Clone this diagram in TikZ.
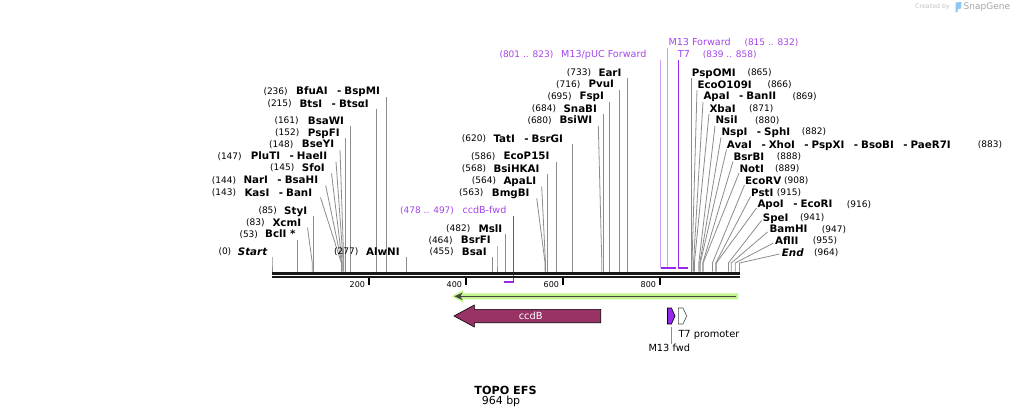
\documentclass[tikz,border=0pt]{standalone}
\usepackage{fontspec}
\setmainfont{DejaVu Sans}[ItalicFont={DejaVu Sans Oblique},BoldFont={DejaVu Sans Bold},BoldItalicFont={DejaVu Sans Bold Oblique}]
\definecolor{cutgray}{RGB}{140,140,140}
\definecolor{purp}{RGB}{165,70,235}
\definecolor{primer}{RGB}{150,40,235}
\definecolor{lav}{RGB}{205,160,245}
\definecolor{ccdb}{RGB}{153,51,102}
\definecolor{orfg}{RGB}{195,245,140}
\definecolor{orfd}{RGB}{70,70,70}
\definecolor{wm}{RGB}{195,195,195}
\definecolor{wmblue}{RGB}{140,200,245}
\newcommand\dsh{\hspace{9.5pt}-\hspace{3pt}}
% #1 id, #2 num x, #3 name x, #4 y, #5 number, #6 name, #7 start x, #8 start y, #9 site x
\newcommand\RSite[9]{%
  \node[nu] (#1n) at (#2,#4) {#5};
  \node[nm] (#1) at (#3,#4) {#6};
  \coordinate (#1s) at (#7,#8);
  \coordinate (#1b) at (#9,263);
  \coordinate (#1e) at (#9,271.5);
  \draw[cut] (#1s) -- (#1b) -- (#1e);}
\tikzset{
  nm/.style={font=\fontsize{10.3}{12}\selectfont\bfseries, anchor=west, inner sep=0pt, text height=7.5pt, text depth=0pt},
  nu/.style={font=\fontsize{9}{11}\selectfont, anchor=west, inner sep=0pt, text height=6.5pt, text depth=0pt},
  pl/.style={font=\fontsize{9.6}{11}\selectfont, text=purp, anchor=west, inner sep=0pt, text height=7pt, text depth=0pt},
  pn/.style={nu, text=purp},
  cut/.style={draw=cutgray, line width=0.8pt},
  rl/.style={font=\fontsize{8}{9}\selectfont, anchor=east, inner sep=0pt},
  feat/.style={draw=black, line width=0.6pt},
  flbl/.style={font=\fontsize{9.8}{11}\selectfont, inner sep=0pt},
}
\begin{document}
\begin{tikzpicture}[x=1pt,y=-1pt]
\useasboundingbox (0,0) rectangle (1013,418);
\fill[white] (0,0) rectangle (1013,418);

% ---------- left labels ----------
\RSite{a236}{263.3}{296}{91}{(236)}{BfuAI\dsh BspMI}{386.5}{97}{386.5}
\RSite{a215}{267.3}{299.3}{103.3}{(215)}{BtsI\dsh BtsαI}{376.3}{109}{376.3}
\RSite{a161}{274.3}{307.7}{120.7}{(161)}{BsaWI}{350.1}{126}{350.1}
\RSite{a152}{275}{307.7}{132.3}{(152)}{PspFI}{345.7}{138}{345.7}
\RSite{a148}{269}{301.7}{144}{(148)}{BseYI}{340}{150}{343.8}
\RSite{a147}{217.3}{250.7}{156}{(147)}{PluTI\dsh HaeII}{336}{161.7}{343.3}
\RSite{a145}{270}{301.7}{167.7}{(145)}{SfoI}{331.5}{173.3}{342.3}
\RSite{a144}{211.7}{243.3}{180}{(144)}{NarI\dsh BsaHI}{325.7}{185.5}{341.8}
\RSite{a143}{211.7}{244.3}{192.7}{(143)}{KasI\dsh BanI}{320.5}{197.5}{341.4}
\RSite{a85}{258.3}{284}{210.7}{(85)}{StyI}{313.2}{216}{313.2}
\RSite{a83}{246}{272.3}{222.3}{(83)}{XcmI}{307.5}{227.7}{312.3}
\RSite{a53}{239.3}{265}{234}{(53)}{BclI *}{297.7}{240}{297.7}
\RSite{a0}{218.3}{237.7}{251.7}{(0)}{\itshape Start}{272}{257}{272}
\RSite{a277}{334}{366}{251.7}{(277)}{AlwNI}{406.3}{257}{406.3}

% ---------- middle labels ----------
\RSite{a455}{429.3}{461.7}{251.7}{(455)}{BsaI}{492.7}{257}{492.7}
\RSite{a464}{428.3}{460.7}{240}{(464)}{BsrFI}{497}{246}{497}
\RSite{a482}{446}{478.3}{228.3}{(482)}{MslI}{505.8}{234}{505.8}
\RSite{a563}{459}{491.7}{192.3}{(563)}{BmgBI}{536.7}{198.3}{545.1}
\RSite{a564}{471.7}{503.3}{180.3}{(564)}{ApaLI}{541.7}{186.7}{545.5}
\RSite{a568}{461.7}{493.3}{168.3}{(568)}{BsiHKAI}{547.5}{174}{547.5}
\RSite{a586}{471}{503.3}{156}{(586)}{EcoP15I}{556.2}{162}{556.2}
\RSite{a620}{461.7}{493.3}{138.3}{(620)}{TatI\dsh BsrGI}{572.7}{144}{572.7}
\RSite{a680}{527.3}{559.3}{120}{(680)}{BsiWI}{598.3}{125.5}{601.8}
\RSite{a684}{531.7}{563.3}{108.3}{(684)}{SnaBI}{603.7}{114}{603.7}
\RSite{a695}{547.3}{579.3}{96}{(695)}{FspI}{609.1}{102}{609.1}
\RSite{a716}{556}{588.3}{84}{(716)}{PvuI}{619.3}{90}{619.3}
\RSite{a733}{566.7}{598.3}{72.3}{(733)}{EarI}{627.5}{78}{627.5}

% ---------- right labels ----------
\RSite{a865}{747.3}{691.7}{72.3}{(865)}{PspOMI}{691.5}{78.3}{691.5}
\RSite{a866}{767.3}{697.3}{84.3}{(866)}{EcoO109I}{697}{90}{692}
\RSite{a869}{792.3}{703.3}{96}{(869)}{ApaI\dsh BanII}{703}{102}{693.5}
\RSite{a871}{749}{709.3}{108.3}{(871)}{XbaI}{709}{114}{694.4}
\RSite{a880}{755}{715.3}{120}{(880)}{NsiI}{715}{126}{698.8}
\RSite{a882}{801.7}{721.3}{131.7}{(882)}{NspI\dsh SphI}{721}{137.5}{699.8}
\RSite{a883}{977.7}{726.7}{144.5}{(883)}{AvaI\dsh XhoI\dsh PspXI\dsh BsoBI\dsh PaeR7I}{726.5}{149.5}{700.3}
\RSite{a888}{776.7}{733.3}{156.7}{(888)}{BsrBI}{733}{161.5}{702.7}
\RSite{a889}{775}{739.3}{168.3}{(889)}{NotI}{739}{173}{703.2}
\RSite{a908}{784}{745}{180.7}{(908)}{EcoRV}{744.5}{185}{712.4}
\RSite{a915}{776.7}{751}{192.3}{(915)}{PstI}{750.5}{196.5}{715.8}
\RSite{a916}{846.7}{757.3}{204}{(916)}{ApoI\dsh EcoRI}{756.5}{208}{716.3}
\RSite{a941}{800}{762.7}{217.3}{(941)}{SpeI}{761.5}{220.5}{728.4}
\RSite{a947}{821.7}{769.3}{229}{(947)}{BamHI}{767.5}{232}{731.3}
\RSite{a955}{812.7}{775}{240.7}{(955)}{AflII}{773.5}{243}{735.2}
\RSite{a964}{814}{781.7}{252.7}{(964)}{\itshape End}{779.5}{254}{739.5}

% ---------- primers ----------
\node[pn] (p1n) at (400,210) {(478 .. 497)};
\node[pl] (p1) at (462.3,210) {ccdB-fwd};
\coordinate (p1s) at (513,216);
\coordinate (p1e) at (513,282);
\coordinate (p1a) at (503.8,282);
\draw[primer, line width=1pt] (p1s) -- (p1e);
\draw[primer, line width=2pt] (p1a) -- ([xshift=0.5pt]p1e);

\node[pn] (p2n) at (499.3,54.3) {(801 .. 823)};
\node[pl] (p2) at (561,54.3) {M13/pUC Forward};
\coordinate (p2s) at (660.5,60);
\coordinate (p2e) at (660.5,268);
\draw[lav, line width=1pt] (p2s) -- (p2e);

\node[pl] (p3) at (668.3,42.3) {M13 Forward};
\node[pn] (p3n) at (744.3,42.3) {(815 .. 832)};
\coordinate (p3s) at (667.3,48);
\coordinate (p3e) at (667.3,268);
\draw[lav, line width=1pt] (p3s) -- (p3e);

\node[pl] (p4) at (677.7,54.3) {T7};
\node[pn] (p4n) at (702.7,54.3) {(839 .. 858)};
\coordinate (p4s) at (678.9,60);
\coordinate (p4e) at (678.9,268);
\draw[primer, line width=1pt] (p4s) -- (p4e);

\coordinate (m1a) at (660.5,268);
\coordinate (m1b) at (675.5,268);
\coordinate (m2a) at (678.4,268);
\coordinate (m2b) at (688.1,268);
\draw[primer, line width=2pt] (m1a) -- (m1b);
\draw[primer, line width=2pt] (m2a) -- (m2b);

% ---------- sequence bar ----------
\coordinate (bar0) at (272,273);
\coordinate (bar1) at (740,273);
\draw[black!90, line width=3pt] (bar0) -- (bar1);
\draw[black!90, line width=2.5pt] ([yshift=-4.2pt]bar0) -- ([yshift=-4.2pt]bar1);

% ruler
\foreach \t/\x in {200/369,400/466,600/563,800/660}{
  \draw[black, line width=2pt] (\x,278) -- (\x,285);
  \node[rl] (r\t) at (\x-3.8,284.3) {\t};
}

% ---------- green feature ----------
\fill[orfg] (738,293.3) -- (463,293.3) -- (463,290.3) -- (451.5,296.3) -- (463,302.3) -- (463,299.3) -- (738,299.3) -- cycle;
\draw[orfd, line width=1.6pt] (736,296.3) -- (459,296.3);
\fill[orfd] (454.5,296.3) -- (462.5,292.6) -- (460.5,296.3) -- (462.5,300) -- cycle;

% ---------- ccdB ----------
\draw[feat, fill=ccdb] (600.7,309.3) -- (474.3,309.3) -- (474.3,305) -- (454,316) -- (474.3,327) -- (474.3,322.7) -- (600.7,322.7) -- cycle;
\node[flbl, text=white] (ccdbl) at (530.7,315.5) {ccdB};

% ---------- M13 fwd / T7 promoter ----------
\draw[feat, fill=primer] (667.5,308) -- (671.5,308) -- (675,316) -- (671.5,324) -- (667.5,324) -- cycle;
\coordinate (m13f) at (671,326.5);
\node[flbl] (m13l) at (669.3,348.3) {M13 fwd};
\draw[cut] (m13f) -- (m13l.north -| m13f);
\draw[draw=black!70, line width=0.6pt, fill=white] (678.3,308) -- (683,308) -- (686.7,316) -- (683,324) -- (678.3,324) -- cycle;
\node[flbl, anchor=west] (t7l) at (678.3,335) {T7 promoter};

% ---------- title ----------
\node[font=\fontsize{11.2}{13}\selectfont\bfseries, inner sep=0pt] (title) at (505.5,390) {TOPO EFS};
\node[font=\fontsize{11}{13}\selectfont, inner sep=0pt] (size) at (501,401.5) {964 bp};

% ---------- watermark ----------
\node[font=\fontsize{6.3}{7}\selectfont, text=wm, anchor=west, inner sep=0pt] (wm1) at (915,7) {Created by};
\fill[wmblue] (955.5,2.5) -- (961.5,2) -- (961,8.5) -- (958,9) -- (957.5,12) -- (955.5,12.5) -- cycle;
\node[font=\fontsize{9}{10}\selectfont, text=black!35, anchor=west, inner sep=0pt] (wm2) at (963.5,7) {SnapGene};
\end{tikzpicture}
\end{document}
